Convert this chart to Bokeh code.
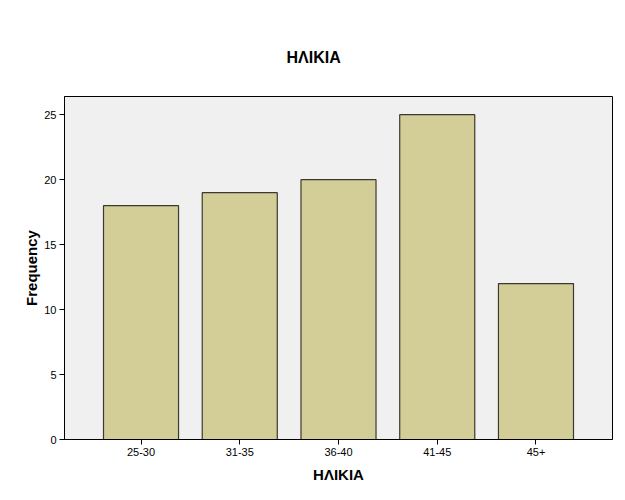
from bokeh.plotting import figure
from bokeh.models import FactorRange, Range1d, FixedTicker, ColumnDataSource
from bokeh.embed import file_html
from bokeh.resources import INLINE

categories = ["25-30", "31-35", "36-40", "41-45", "45+"]
frequency = [18, 19, 20, 25, 12]
y_ticks = [0, 5, 10, 15, 20, 25]

FONT = "Liberation Sans"

src = ColumnDataSource(dict(cat=categories, freq=frequency))

p = figure(
    x_range=FactorRange(factors=categories, range_padding=0.11, range_padding_units="percent"),
    y_range=Range1d(0, 26.4),
    frame_width=548, frame_height=343,
    min_border_left=64, min_border_top=96, min_border_right=13, min_border_bottom=61,
    output_backend="svg", toolbar_location=None,
    title="ΗΛΙΚΙΑ",
)

p.vbar(x="cat", top="freq", width=0.76, source=src,
       fill_color="#D3CE97", line_color="#3a3a30", line_width=1.2)

p.title.align = "left"
p.title.offset = 222
p.title.text_font = FONT
p.title.text_font_size = "16px"
p.title.text_font_style = "bold"
p.title.text_color = "#000000"
p.title.standoff = 62

p.background_fill_color = "#F0F0F0"
p.border_fill_color = "#FFFFFF"
p.outline_line_color = "#000000"
p.outline_line_width = 1
p.xgrid.grid_line_color = None
p.ygrid.grid_line_color = None

p.yaxis.ticker = FixedTicker(ticks=y_ticks)
p.yaxis.minor_tick_line_color = None
p.yaxis.major_tick_in = 0
p.yaxis.major_tick_out = 5
p.yaxis.axis_label = "Frequency"
p.xaxis.axis_label = "ΗΛΙΚΙΑ"
p.xaxis.major_tick_in = 0
p.xaxis.major_tick_out = 5

for ax in (p.xaxis, p.yaxis):
    ax.axis_line_color = "#000000"
    ax.major_tick_line_color = "#000000"
    ax.major_label_text_font = FONT
    ax.major_label_text_font_size = "11px"
    ax.major_label_text_color = "#000000"
    ax.axis_label_text_font = FONT
    ax.axis_label_text_font_size = "15px"
    ax.axis_label_text_font_style = "bold"
    ax.axis_label_text_color = "#000000"

p.xaxis.major_label_standoff = 3
p.xaxis.axis_label_standoff = 7
p.yaxis.major_label_standoff = 3
p.yaxis.axis_label_standoff = 1

open("out.html", "w").write(file_html(p, INLINE))
